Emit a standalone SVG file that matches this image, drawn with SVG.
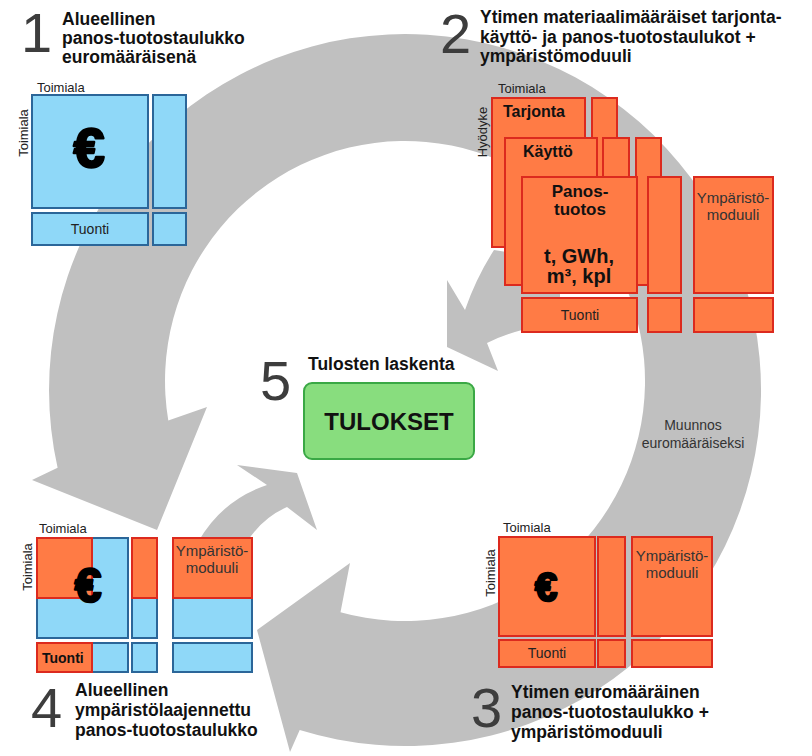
<svg xmlns="http://www.w3.org/2000/svg" width="812" height="756" viewBox="0 0 812 756">
<style>
.ring{fill:#c0c0c0}
.b{fill:#8fd8f8;stroke:#2b6699;stroke-width:2}
.o{fill:#ff7b45;stroke:#dc2a1e;stroke-width:2}
.num{font-family:"Liberation Sans",Arial,sans-serif;font-size:56px;fill:#3d3d3d}
.ttl{font-family:"Liberation Sans",Arial,sans-serif;font-size:17.5px;font-weight:bold;fill:#111}
.lbl{font-family:"Liberation Sans",Arial,sans-serif;font-size:13px;fill:#222}
.cell{font-family:"Liberation Sans",Arial,sans-serif;font-size:14px;fill:#222;text-anchor:middle}
.mod{font-family:"Liberation Sans",Arial,sans-serif;font-size:15px;fill:#333;text-anchor:middle}
.bold{font-family:"Liberation Sans",Arial,sans-serif;font-weight:bold;fill:#111}
.eur{font-family:"Liberation Sans",Arial,sans-serif;font-weight:bold;fill:#000;stroke:#000;stroke-width:2.5;stroke-linejoin:round;text-anchor:middle}
</style>
<rect width="812" height="756" fill="#fff"/>
<g id="connectors">
  <path class="ring" d="M32,480 L57.6,467.7 A356,356 0 1 1 299.7,730.1 L290,752 L257,630 L350,563 L340.5,612.2 A240,240 0 1 0 168.3,420.6 L207,407 L157,530 Z"/>
  <path class="ring" d="M447,280 L465,310 Q476,278 494,250 L560,260 L560,320 L522,330 Q503,335 487,343 L498,371 L447,347 Z"/>
  <path class="ring" d="M237,465 L297,473 L317,530 L287,507 Q262,518 247,542 L198,542 Q222,500 267,485 Z"/>
  <text x="693" y="430" class="cell" style="fill:#333">Muunnos</text>
  <text x="693" y="448" class="cell" style="fill:#333">euromääräiseksi</text>
</g>
<g id="node1">
  <text x="21" y="52" class="num">1</text>
  <text x="62" y="25" class="ttl">Alueellinen</text>
  <text x="62" y="44" class="ttl">panos-tuotostaulukko</text>
  <text x="62" y="63" class="ttl">euromääräisenä</text>
  <text x="37" y="92" class="lbl">Toimiala</text>
  <text x="28" y="133" class="lbl" text-anchor="middle" transform="rotate(-90 28 133)">Toimiala</text>
  <rect class="b" x="32" y="95" width="116" height="113"/>
  <rect class="b" x="153" y="95" width="33" height="113"/>
  <rect class="b" x="32" y="213" width="116" height="32"/>
  <rect class="b" x="153" y="213" width="33" height="32"/>
  <text x="89" y="167" class="eur" font-size="56">€</text>
  <text x="90" y="234" class="cell">Tuonti</text>
</g>
<g id="node2">
  <text x="440" y="53" class="num">2</text>
  <text x="480" y="23" class="ttl">Ytimen materiaalimääräiset tarjonta-</text>
  <text x="480" y="43" class="ttl">käyttö- ja panos-tuotostaulukot +</text>
  <text x="480" y="62" class="ttl">ympäristömoduuli</text>
  <text x="498" y="93" class="lbl">Toimiala</text>
  <text x="487" y="132" class="lbl" text-anchor="middle" transform="rotate(-90 487 132)">Hyödyke</text>
  <rect class="o" x="492" y="98" width="93" height="149"/>
  <rect class="o" x="592" y="98" width="25" height="149"/>
  <rect class="o" x="505" y="138" width="92" height="147"/>
  <rect class="o" x="603" y="138" width="26" height="147"/>
  <rect class="o" x="636" y="138" width="25" height="147"/>
  <rect class="o" x="522" y="177" width="115" height="116"/>
  <rect class="o" x="648" y="177" width="33" height="116"/>
  <rect class="o" x="694" y="177" width="79" height="116"/>
  <rect class="o" x="522" y="298" width="115" height="34"/>
  <rect class="o" x="648" y="298" width="33" height="34"/>
  <rect class="o" x="694" y="298" width="79" height="34"/>
  <text x="503" y="117" class="bold" font-size="16">Tarjonta</text>
  <text x="523" y="157" class="bold" font-size="16">Käyttö</text>
  <text x="580" y="197" class="bold" font-size="17" text-anchor="middle">Panos-</text>
  <text x="580" y="215" class="bold" font-size="17" text-anchor="middle">tuotos</text>
  <text x="579" y="263" class="bold" font-size="20" text-anchor="middle">t, GWh,</text>
  <text x="579" y="283" class="bold" font-size="20" text-anchor="middle">m³, kpl</text>
  <text x="733" y="203" class="mod">Ympäristö-</text>
  <text x="733" y="220" class="mod">moduuli</text>
  <text x="580" y="320" class="cell">Tuonti</text>
</g>
<g id="node3">
  <text x="503" y="532" class="lbl">Toimiala</text>
  <text x="495" y="573" class="lbl" text-anchor="middle" transform="rotate(-90 495 573)">Toimiala</text>
  <rect class="o" x="499" y="537" width="96" height="99"/>
  <rect class="o" x="598" y="537" width="27" height="99"/>
  <rect class="o" x="632" y="537" width="80" height="99"/>
  <rect class="o" x="499" y="640" width="96" height="27"/>
  <rect class="o" x="598" y="640" width="27" height="27"/>
  <rect class="o" x="632" y="640" width="80" height="27"/>
  <text x="546" y="601" class="eur" font-size="40">€</text>
  <text x="547" y="658" class="cell">Tuonti</text>
  <text x="672" y="561" class="mod">Ympäristö-</text>
  <text x="672" y="578" class="mod">moduuli</text>
  <text x="471" y="727" class="num">3</text>
  <text x="511" y="698" class="ttl">Ytimen euromääräinen</text>
  <text x="511" y="718" class="ttl">panos-tuotostaulukko +</text>
  <text x="511" y="738" class="ttl">ympäristömoduuli</text>
</g>
<g id="node4">
  <text x="39" y="533" class="lbl">Toimiala</text>
  <text x="32" y="567" class="lbl" text-anchor="middle" transform="rotate(-90 32 567)">Toimiala</text>
  <rect class="b" x="37" y="538" width="91" height="100"/>
  <rect class="b" x="132" y="538" width="25" height="100"/>
  <rect class="b" x="173" y="538" width="79" height="100"/>
  <rect class="b" x="37" y="643" width="91" height="29"/>
  <rect class="b" x="132" y="643" width="25" height="29"/>
  <rect class="b" x="173" y="643" width="79" height="29"/>
  <rect class="o" x="37" y="538" width="55" height="60"/>
  <rect class="o" x="132" y="538" width="25" height="60"/>
  <rect class="o" x="173" y="538" width="79" height="60"/>
  <rect class="o" x="37" y="643" width="55" height="29"/>
  <text x="88" y="602" class="eur" font-size="48">€</text>
  <text x="42" y="663" class="bold" font-size="14">Tuonti</text>
  <text x="212" y="556" class="mod">Ympäristö-</text>
  <text x="212" y="573" class="mod">moduuli</text>
  <text x="31" y="727" class="num">4</text>
  <text x="75" y="696" class="ttl">Alueellinen</text>
  <text x="75" y="716" class="ttl">ympäristölaajennettu</text>
  <text x="75" y="736" class="ttl">panos-tuotostaulukko</text>
</g>
<g id="node5">
  <text x="260" y="400" class="num">5</text>
  <text x="308" y="370" class="ttl">Tulosten laskenta</text>
  <rect x="304" y="383" width="170" height="76" rx="8" fill="#88dd7e" stroke="#3aa845" stroke-width="2"/>
  <text x="389" y="430" class="bold" font-size="24" text-anchor="middle">TULOKSET</text>
</g>
</svg>
